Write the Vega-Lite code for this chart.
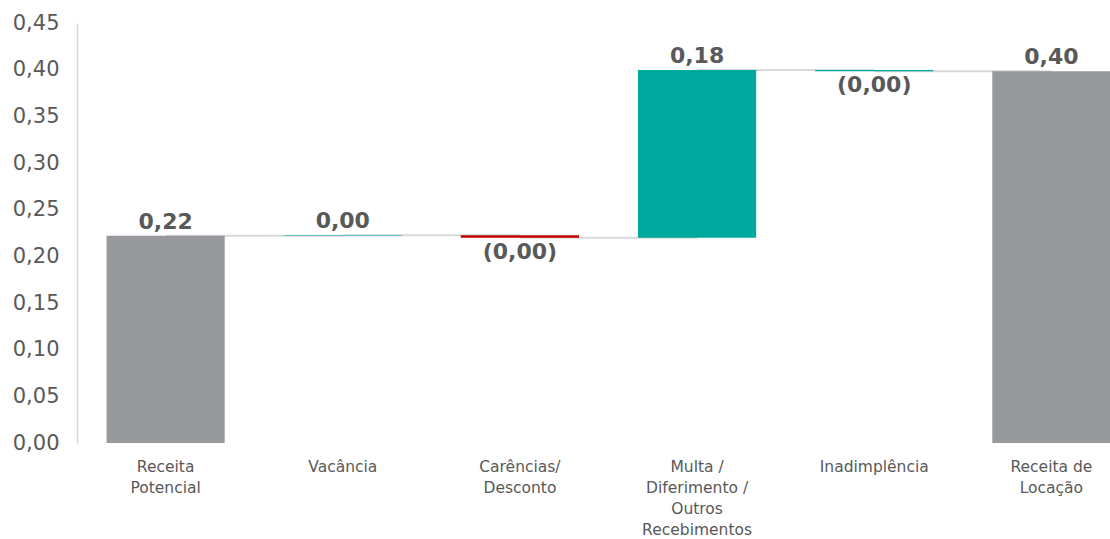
{
  "$schema": "https://vega.github.io/schema/vega-lite/v6.json",
  "autosize": "none",
  "width": 1033,
  "height": 420,
  "padding": {"left": 77, "top": 23, "right": 0, "bottom": 96},
  "background": "white",
  "config": {
    "view": {"stroke": null},
    "font": "DejaVu Sans"
  },
  "data": {
    "values": [
      {"Categoria": "Receita Potencial", "Proxima": "Vacância", "inicio": 0, "fim": 0.222, "rotulo": "0,22", "sinal": "pos"},
      {"Categoria": "Vacância", "Proxima": "Carências/Desconto", "inicio": 0.222, "fim": 0.2226, "rotulo": "0,00", "sinal": "pos"},
      {"Categoria": "Carências/Desconto", "Proxima": "Multa / Diferimento / Outros Recebimentos", "inicio": 0.2226, "fim": 0.22, "rotulo": "(0,00)", "sinal": "neg"},
      {"Categoria": "Multa / Diferimento / Outros Recebimentos", "Proxima": "Inadimplência", "inicio": 0.22, "fim": 0.3996, "rotulo": "0,18", "sinal": "pos"},
      {"Categoria": "Inadimplência", "Proxima": "Receita de Locação", "inicio": 0.3996, "fim": 0.3982, "rotulo": "(0,00)", "sinal": "neg"},
      {"Categoria": "Receita de Locação", "Proxima": null, "inicio": 0, "fim": 0.3982, "rotulo": "0,40", "sinal": "pos"}
    ]
  },
  "encoding": {
    "x": {
      "field": "Categoria",
      "type": "nominal",
      "sort": null,
      "scale": {"range": [0, 1063], "paddingInner": 0.333, "paddingOuter": 0.1667},
      "axis": {
        "title": null,
        "domain": false,
        "ticks": false,
        "labelAngle": 0,
        "labelFontSize": 15.5,
        "labelColor": "#595959",
        "labelPadding": 16,
        "labelLineHeight": 21,
        "labelBaseline": "top",
        "labelExpr": "datum.value == 'Receita Potencial' ? ['Receita', 'Potencial'] : datum.value == 'Carências/Desconto' ? ['Carências/', 'Desconto'] : datum.value == 'Multa / Diferimento / Outros Recebimentos' ? ['Multa /', 'Diferimento /', 'Outros', 'Recebimentos'] : datum.value == 'Receita de Locação' ? ['Receita de', 'Locação'] : datum.value"
      }
    }
  },
  "layer": [
    {
      "transform": [{"filter": "datum.Proxima != null"}],
      "mark": {"type": "rule", "color": "#d9d9d9", "strokeWidth": 2},
      "encoding": {
        "x2": {"field": "Proxima"},
        "y": {"field": "fim", "type": "quantitative"}
      }
    },
    {
      "mark": {"type": "bar"},
      "encoding": {
        "y": {
          "field": "inicio",
          "type": "quantitative",
          "scale": {"domain": [0, 0.45], "nice": false},
          "axis": {
            "title": null,
            "values": [0, 0.05, 0.1, 0.15, 0.2, 0.25, 0.3, 0.35, 0.4, 0.45],
            "labelExpr": "replace(format(datum.value, '.2f'), '.', ',')",
            "labelFontSize": 21,
            "labelColor": "#595959",
            "labelPadding": 18,
            "ticks": false,
            "grid": false,
            "domainColor": "#d9d9d9",
            "domainWidth": 1.5
          }
        },
        "y2": {"field": "fim"},
        "color": {
          "field": "Categoria",
          "type": "nominal",
          "legend": null,
          "scale": {
            "domain": ["Receita Potencial", "Vacância", "Carências/Desconto", "Multa / Diferimento / Outros Recebimentos", "Inadimplência", "Receita de Locação"],
            "range": ["#98999d", "#00a99d", "#c00000", "#00a99d", "#00a99d", "#98999d"]
          }
        }
      }
    },
    {
      "transform": [{"filter": "datum.sinal == 'pos'"}],
      "mark": {"type": "text", "baseline": "bottom", "dy": -2, "fontSize": 22, "fontWeight": "bold", "color": "#595959"},
      "encoding": {
        "y": {"field": "fim", "type": "quantitative"},
        "text": {"field": "rotulo"}
      }
    },
    {
      "transform": [{"filter": "datum.sinal == 'neg'"}],
      "mark": {"type": "text", "baseline": "top", "dy": 4, "fontSize": 22, "fontWeight": "bold", "color": "#595959"},
      "encoding": {
        "y": {"field": "fim", "type": "quantitative"},
        "text": {"field": "rotulo"}
      }
    }
  ]
}
